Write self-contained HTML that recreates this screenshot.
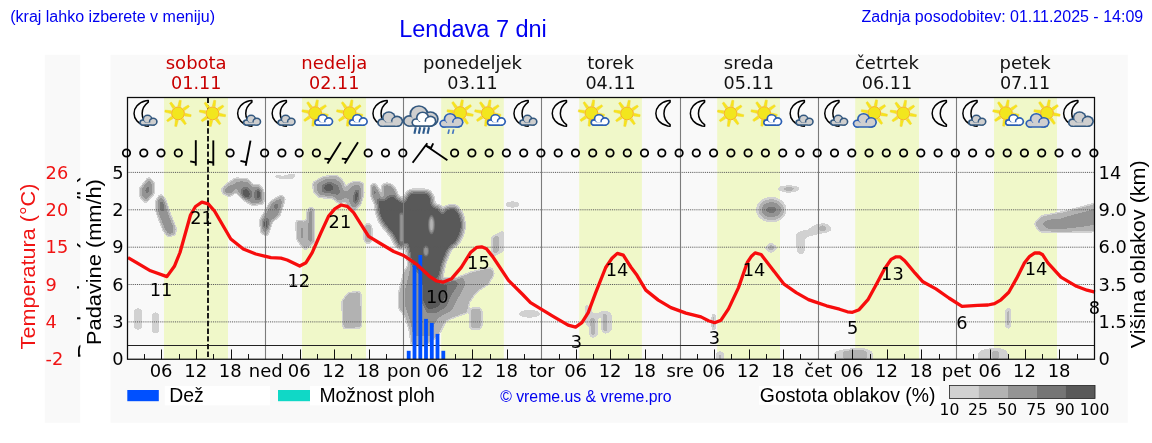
<!DOCTYPE html>
<html lang="sl"><head><meta charset="utf-8"><title>Lendava 7 dni</title>
<style>
html,body{margin:0;padding:0;background:#fff;}
body{width:1152px;height:443px;overflow:hidden;position:relative;}
svg{position:absolute;left:0;top:0;display:block;}
.dj{font-family:"DejaVu Sans","Liberation Sans",sans-serif;}
.ar{font-family:"Liberation Sans",Arial,sans-serif;}
</style></head><body>
<svg width="1152" height="443" viewBox="0 0 1152 443">
<defs>
<filter id="cl" x="0" y="0" width="1152" height="443" filterUnits="userSpaceOnUse" color-interpolation-filters="sRGB">
<feGaussianBlur stdDeviation="1.5"/>
<feColorMatrix type="matrix" values="0 0 0 1 0  0 0 0 1 0  0 0 0 1 0  0 0 0 1 0"/>
<feComponentTransfer>
<feFuncR type="discrete" tableValues="1 1 .82 .82 .82 .7 .7 .7 .7 .7 .58 .58 .58 .58 .58 .46 .46 .46 .35 .35"/>
<feFuncG type="discrete" tableValues="1 1 .82 .82 .82 .7 .7 .7 .7 .7 .58 .58 .58 .58 .58 .46 .46 .46 .35 .35"/>
<feFuncB type="discrete" tableValues="1 1 .82 .82 .82 .7 .7 .7 .7 .7 .58 .58 .58 .58 .58 .46 .46 .46 .35 .35"/>
<feFuncA type="discrete" tableValues="0 0 1 1 1 1 1 1 1 1 1 1 1 1 1 1 1 1 1 1"/>
</feComponentTransfer>
<feGaussianBlur stdDeviation="0.35"/>
</filter>
<filter id="b1" x="340" y="160" width="180" height="200" filterUnits="userSpaceOnUse"><feGaussianBlur stdDeviation="1.4"/></filter>
<filter id="b3" x="-60%" y="-60%" width="220%" height="220%"><feGaussianBlur stdDeviation="3.3"/></filter>
<clipPath id="plot"><rect x="127.5" y="97.5" width="967.0" height="261.75"/></clipPath>
<path id="cloud" d="M22,61 C8,61 1,52 1,43 C1,32 10,25 21,27 C20,12 32,1 47,1 C61,1 71,9 74,21 C88,18 99,28 99,41 C99,53 91,61 79,61 Z"/>
<path id="curl" d="M66,22 C57,27 55,38 63,44" fill="none"/>
<g id="sun"><path d="M2.64,-6.64 L3.28,-12.83 L1.31,-13.17 L-0.21,-7.15Z M6.57,-2.83 L11.39,-6.75 L10.24,-8.39 L4.90,-5.20Z M6.64,2.64 L12.83,3.28 L13.17,1.31 L7.15,-0.21Z M2.83,6.57 L6.75,11.39 L8.39,10.24 L5.20,4.90Z M-2.64,6.64 L-3.28,12.83 L-1.31,13.17 L0.21,7.15Z M-6.57,2.83 L-11.39,6.75 L-10.24,8.39 L-4.90,5.20Z M-6.64,-2.64 L-12.83,-3.28 L-13.17,-1.31 L-7.15,0.21Z M-2.83,-6.57 L-6.75,-11.39 L-8.39,-10.24 L-5.20,-4.90Z" fill="#f6e61a" stroke="#f3d02c" stroke-width="0.5"/><circle r="6.4" fill="#f2e61e" stroke="#f8a920" stroke-width="0.9"/></g>
<path id="moon" d="M8,-12.8 L5.6,-12.6 C-10.2,-9 -10.2,9 5.6,12.6 L8,12.8 L8,11.2 C-0.2,5 -0.2,-5 8,-11.2 Z" fill="#fcfcfc" stroke="#000" stroke-width="1.5" stroke-linejoin="round"/>
</defs>
<rect width="1152" height="443" fill="#fff"/>
<rect x="44.8" y="54.8" width="35.6" height="368" fill="#f9f9f9"/>
<rect x="110.4" y="54.8" width="1017.4" height="368" fill="#f9f9f9"/>
<rect x="164" y="97.5" width="64.0" height="261.75" fill="#f0f8c9"/>
<rect x="302" y="97.5" width="64.0" height="261.75" fill="#f0f8c9"/>
<rect x="441.2" y="97.5" width="62.6" height="261.75" fill="#f0f8c9"/>
<rect x="579.2" y="97.5" width="62.7" height="261.75" fill="#f0f8c9"/>
<rect x="717.2" y="97.5" width="62.8" height="261.75" fill="#f0f8c9"/>
<rect x="855.2" y="97.5" width="63.8" height="261.75" fill="#f0f8c9"/>
<rect x="994" y="97.5" width="63.0" height="261.75" fill="#f0f8c9"/>
<g clip-path="url(#plot)"><g filter="url(#cl)" fill="#000">
<polygon points="148.7,178.5 153.0,183.0 153.0,193.5 145.5,201.5 141.0,196.5 140.5,189.0" opacity="0.55" stroke="#000" stroke-width="1.2" stroke-linejoin="round"/>
<polygon points="148.7,184.0 150.5,187.4 150.0,193.0 145.5,195.5 143.8,192.0 144.5,187.6" opacity="0.5" stroke="#000" stroke-width="1.2" stroke-linejoin="round"/>
<polygon points="160.5,195.5 164.3,199.5 169.8,216.0 175.0,228.5 174.3,233.8 168.0,235.6 164.0,229.5 157.0,211.0 157.0,200.5" opacity="0.55" stroke="#000" stroke-width="1.2" stroke-linejoin="round"/>
<polygon points="160.5,200.0 163.0,203.0 167.0,218.0 171.0,229.0 169.0,231.0 166.0,226.0 160.0,210.0" opacity="0.45" stroke="#000" stroke-width="1.2" stroke-linejoin="round"/>
<ellipse cx="161.5" cy="205.5" rx="2.26" ry="4.36" opacity="0.7"/>
<rect x="133.84" y="308.24" width="8.22" height="21.52" rx="3.96" opacity="0.21"/>
<rect x="151.84" y="312.24" width="7.32" height="21.12" rx="3.56" opacity="0.21"/>
<polygon points="227.0,185.0 235.6,179.2 247.5,180.0 252.5,186.0 258.8,185.5 262.8,191.0 262.8,203.0 252.0,204.3 244.0,199.0 236.0,191.0 229.5,195.5 223.5,193.0 222.8,189.0" opacity="0.5" stroke="#000" stroke-width="1.2" stroke-linejoin="round"/>
<polygon points="240.0,184.0 248.0,184.0 252.0,190.0 258.0,188.0 261.0,192.0 261.0,201.0 253.0,202.0 246.0,198.0 240.0,191.0" opacity="0.45" stroke="#000" stroke-width="1.2" stroke-linejoin="round"/>
<ellipse cx="245.9" cy="193.5" rx="4.66" ry="5.26" opacity="0.92"/>
<ellipse cx="258.5" cy="194.5" rx="2.76" ry="5.56" opacity="0.9"/>
<ellipse cx="229.5" cy="190.3" rx="3.36" ry="2.86" opacity="0.25"/>
<polygon points="281.4,196.0 284.2,198.6 278.8,215.5 271.2,221.6 266.8,235.0 262.0,232.6 260.6,220.8 265.0,213.0 271.0,202.3" opacity="0.5" stroke="#000" stroke-width="1.2" stroke-linejoin="round"/>
<polygon points="279.0,201.0 281.0,204.0 277.0,214.0 270.0,220.0 267.0,230.0 264.0,228.0 263.5,221.0 268.0,213.0 274.0,204.0" opacity="0.4" stroke="#000" stroke-width="1.2" stroke-linejoin="round"/>
<ellipse cx="275.9" cy="206" rx="1.96" ry="3.36" opacity="0.45"/>
<ellipse cx="265.8" cy="224" rx="3.16" ry="5.36" opacity="0.9"/>
<polygon points="274.5,175.2 283.0,176.6 292.3,174.0 296.2,175.6 290.6,178.8 277.0,177.6" opacity="0.22" stroke="#000" stroke-width="1.2" stroke-linejoin="round"/>
<polygon points="296.6,221.3 306.9,222.0 308.6,208.8 313.3,208.8 313.3,242.0 305.3,249.0 297.7,239.8" opacity="0.42" stroke="#000" stroke-width="1.2" stroke-linejoin="round"/>
<rect x="308.44" y="209.64" width="4.92" height="32.72" rx="1.86" opacity="0.3"/>
<rect x="300.14" y="225.64" width="3.72" height="14.72" rx="1.86" opacity="0.2"/>
<polygon points="313.8,183.0 324.8,177.4 336.8,176.6 342.4,181.6 344.8,190.0 348.8,184.8 354.8,182.2 362.0,183.4 362.8,193.6 359.8,204.2 354.4,209.8 349.2,207.0 346.4,200.4 339.8,202.8 332.8,197.2 319.4,196.4 314.6,191.8" opacity="0.5" stroke="#000" stroke-width="1.2" stroke-linejoin="round"/>
<polygon points="320.0,185.5 328.5,180.5 338.5,184.5 341.0,193.0 339.0,199.0 333.0,194.5 321.0,193.5" opacity="0.45" stroke="#000" stroke-width="1.2" stroke-linejoin="round"/>
<polygon points="323.2,185.6 329.2,182.4 338.2,186.2 339.6,193.0 332.4,193.0 323.4,191.6" opacity="0.55" stroke="#000" stroke-width="1.2" stroke-linejoin="round"/>
<ellipse cx="328.4" cy="187.4" rx="4.16" ry="3.16" opacity="0.85"/>
<ellipse cx="356.1" cy="196.6" rx="3.96" ry="9.36" opacity="0.45" transform="rotate(8 356.1 196.6)"/>
<ellipse cx="356.3" cy="196.6" rx="2.56" ry="7.36" opacity="0.85" transform="rotate(8 356.3 196.6)"/>
<polygon points="342.8,301.8 348.4,293.6 359.8,292.4 360.9,326.8 343.9,327.9" opacity="0.42" stroke="#000" stroke-width="1.2" stroke-linejoin="round"/>
<rect x="364.44" y="223.64" width="7.12" height="19.72" rx="3.56" opacity="0.4"/>
<polygon points="371.5,186.0 374.5,184.5 378.0,190.0 381.0,196.0 380.0,202.0 376.0,204.0 372.0,196.0" opacity="0.62" stroke="#000" stroke-width="1.2" stroke-linejoin="round"/>
<polygon points="383.0,186.0 386.5,184.0 391.0,185.5 395.0,190.0 397.0,197.0 390.0,197.0 386.0,201.0 383.0,194.0" opacity="0.62" stroke="#000" stroke-width="1.2" stroke-linejoin="round"/>
<ellipse cx="374.3" cy="192.4" rx="1.66" ry="2.56" opacity="0.8"/>
<polygon points="379.0,201.5 382.3,199.8 385.4,206.0 388.4,198.8 392.5,197.2 397.6,199.8 401.6,203.4 403.7,212.0 406.7,199.3 410.8,193.3 427.0,193.3 430.1,197.3 431.1,207.5 438.2,208.5 442.4,220.0 446.8,209.5 454.4,208.5 459.5,215.6 461.5,225.8 459.5,233.9 455.4,242.0 449.0,246.0 445.0,254.2 441.2,264.3 439.6,272.0 438.4,277.2 430.0,277.0 421.0,272.0 411.5,262.0 411.0,256.0 408.7,244.0 405.0,240.0 400.6,246.0 397.6,242.0 393.5,233.9 386.4,225.8 382.3,219.7 379.3,211.5" opacity="1.0" stroke="#000" stroke-width="4.6" stroke-linejoin="round" filter="url(#b1)"/>
<polygon points="412.0,262.0 440.0,279.0 457.0,279.5 470.0,273.5 484.0,269.8 491.5,269.0 493.0,274.0 487.5,283.5 475.5,291.5 468.3,302.0 466.3,312.0 455.5,315.8 445.3,320.0 441.0,328.5 437.5,335.0 425.0,345.0 412.3,344.3 410.2,329.0 405.2,314.8 399.8,308.7 399.8,292.5 404.8,272.3" opacity="0.42" stroke="#000" stroke-width="1.6" stroke-linejoin="round"/>
<polygon points="412.0,264.0 440.0,280.0 456.0,280.0 462.0,277.0 464.5,284.3 455.9,300.0 451.5,309.3 438.7,316.3 433.6,322.9 430.0,335.0 414.0,335.0 411.0,320.0 406.0,305.0 406.0,290.0 410.0,275.0" opacity="0.4" stroke="#000" stroke-width="1.0" stroke-linejoin="round"/>
<polygon points="421.4,274.2 441.7,283.3 455.9,281.0 457.5,284.3 449.8,296.5 445.8,306.7 435.6,312.5 427.5,312.5 422.4,302.6" opacity="0.66" stroke="#000" stroke-width="1.0" stroke-linejoin="round"/>
<polygon points="421.8,276.0 441.0,284.5 446.0,286.0 443.0,298.0 436.0,306.0 428.0,308.0 423.0,300.0" opacity="0.75" stroke="#000" stroke-width="1.2" stroke-linejoin="round"/>
<polygon points="491.4,238.0 503.0,231.0 503.0,251.4 492.8,255.6" opacity="0.23" stroke="#000" stroke-width="1.2" stroke-linejoin="round"/>
<rect x="494.04" y="235.64" width="2.52" height="17.72" rx="1.26" opacity="0.3"/>
<ellipse cx="512.7" cy="204.5" rx="7.16" ry="2.76" opacity="0.25"/>
<rect x="469.44" y="307.64" width="12.52" height="21.72" rx="3.86" opacity="0.33"/>
<ellipse cx="529.5" cy="313.7" rx="10.86" ry="3.56" opacity="0.25"/>
</g>
<g filter="url(#cl)" fill="#000">
</g>
</g>
<g clip-path="url(#plot)">
<ellipse cx="431.5" cy="224.7" rx="3.5" ry="9.6" fill="#757575"/><ellipse cx="431.5" cy="224.7" rx="2.6" ry="8" fill="#949494"/><ellipse cx="431.5" cy="224.7" rx="1.4" ry="5.6" fill="#b3b3b3"/>
<ellipse cx="426" cy="251" rx="3" ry="5.6" fill="#757575"/><ellipse cx="426" cy="251" rx="1.9" ry="4" fill="#949494"/>
<rect x="399.3" y="212.5" width="4.6" height="32" rx="2.3" fill="#757575"/><rect x="400.3" y="214.5" width="2.6" height="27" rx="1.3" fill="#949494"/>
</g>
<g clip-path="url(#plot)"><g filter="url(#cl)" fill="#000">
<polygon points="585.7,304.6 591.9,307.4 591.9,313.1 598.1,313.6 600.4,311.4 608.9,311.4 611.7,314.2 611.7,331.1 604.9,333.9 601.5,331.1 601.5,317.6 599.3,316.4 598.1,317.6 598.1,334.5 593.1,338.5 589.7,335.6 589.7,327.7 585.2,323.2 585.2,305.2" opacity="0.2" stroke="#000" stroke-width="0.3" stroke-linejoin="round"/>
<rect x="590.64" y="317.94" width="4.12" height="17.72" rx="1.36" opacity="0.17"/>
<rect x="603.84" y="314.04" width="2.22" height="17.22" rx="1.06" opacity="0.32"/>
<rect x="712.64" y="313.64" width="2.32" height="16.72" rx="1.16" opacity="0.45"/>
<rect x="716.14" y="351.64" width="7.72" height="10.72" rx="2.86" opacity="0.25"/>
<ellipse cx="771.3" cy="209.8" rx="11.8" ry="9.2" opacity="0.8" filter="url(#b3)"/>
<ellipse cx="788.8" cy="188.8" rx="11.16" ry="3.16" opacity="0.25"/>
<ellipse cx="788.8" cy="189.2" rx="3.36" ry="1.56" opacity="0.3"/>
<polygon points="771.0,243.6 776.6,247.8 771.0,252.0 765.6,247.8" opacity="0.3" stroke="#000" stroke-width="1.2" stroke-linejoin="round"/>
<polygon points="796.0,233.7 800.9,230.9 807.6,229.9 816.2,224.1 826.8,223.8 832.1,228.0 829.7,231.8 819.1,233.7 807.6,236.6 804.7,239.5 804.7,252.0 800.9,254.9 797.0,252.0" opacity="0.2" stroke="#000" stroke-width="0.4" stroke-linejoin="round"/>
<rect x="819.84" y="225.54" width="5.32" height="5.52" rx="0.96" opacity="0.2"/>
<polygon points="834.1,360.0 834.1,351.9 840.2,350.2 847.7,349.2 852.6,349.0 853.3,348.2 861.7,348.2 866.7,349.6 871.5,350.9 873.0,353.3 873.0,360.0" opacity="0.2" stroke="#000" stroke-width="0.3" stroke-linejoin="round"/>
<polygon points="843.4,360.0 843.4,350.8 853.0,349.6 861.7,349.6 866.9,351.0 866.9,360.0" opacity="0.16" stroke="#000" stroke-width="0.2" stroke-linejoin="round"/>
<polygon points="977.9,360.0 977.9,352.6 981.9,350.2 987.3,348.9 991.4,348.2 1000.2,348.2 1004.3,349.6 1007.7,352.3 1008.3,360.0" opacity="0.2" stroke="#000" stroke-width="0.3" stroke-linejoin="round"/>
<polygon points="992.3,360.0 992.3,351.2 998.7,351.2 998.7,360.0" opacity="0.17" stroke="#000" stroke-width="0.2" stroke-linejoin="round"/>
<rect x="1005.24" y="308.14" width="5.72" height="20.22" rx="2.86" opacity="0.27"/>
<polygon points="1035.5,223.8 1042.0,216.8 1063.0,212.8 1078.6,208.8 1100.0,203.0 1100.0,230.4 1060.4,231.4 1040.2,230.8" opacity="0.4" stroke="#000" stroke-width="1.6" stroke-linejoin="round"/>
<polygon points="1042.2,223.6 1047.4,220.2 1060.4,219.2 1070.8,215.8 1081.2,213.2 1100.0,208.0 1100.0,223.0 1083.9,226.2 1060.4,228.8 1047.4,228.3" opacity="0.32" stroke="#000" stroke-width="1.0" stroke-linejoin="round"/>
<ellipse cx="1094" cy="213.2" rx="1.96" ry="2.76" opacity="0.5"/>
</g></g>
<line x1="127.5" x2="1094.5" y1="321.9" y2="321.9" stroke="#5a5a5a" stroke-width="1" stroke-dasharray="1 0.9"/>
<line x1="127.5" x2="1094.5" y1="284.5" y2="284.5" stroke="#5a5a5a" stroke-width="1" stroke-dasharray="1 0.9"/>
<line x1="127.5" x2="1094.5" y1="247.2" y2="247.2" stroke="#5a5a5a" stroke-width="1" stroke-dasharray="1 0.9"/>
<line x1="127.5" x2="1094.5" y1="209.8" y2="209.8" stroke="#5a5a5a" stroke-width="1" stroke-dasharray="1 0.9"/>
<line x1="127.5" x2="1094.5" y1="172.4" y2="172.4" stroke="#5a5a5a" stroke-width="1" stroke-dasharray="1 0.9"/>
<line x1="265.5" x2="265.5" y1="97.5" y2="359.25" stroke="#7c7c7c" stroke-width="1.1"/>
<line x1="403.5" x2="403.5" y1="97.5" y2="359.25" stroke="#7c7c7c" stroke-width="1.1"/>
<line x1="541.5" x2="541.5" y1="97.5" y2="359.25" stroke="#7c7c7c" stroke-width="1.1"/>
<line x1="680.5" x2="680.5" y1="97.5" y2="359.25" stroke="#7c7c7c" stroke-width="1.1"/>
<line x1="818.5" x2="818.5" y1="97.5" y2="359.25" stroke="#7c7c7c" stroke-width="1.1"/>
<line x1="956.5" x2="956.5" y1="97.5" y2="359.25" stroke="#7c7c7c" stroke-width="1.1"/>
<line x1="127.5" x2="1094.5" y1="345.5" y2="345.5" stroke="#222" stroke-width="1"/>
<line x1="144.5" x2="144.5" y1="354.05" y2="359.25" stroke="#111" stroke-width="1"/>
<line x1="161.5" x2="161.5" y1="349.45" y2="359.25" stroke="#111" stroke-width="1"/>
<line x1="179.5" x2="179.5" y1="354.05" y2="359.25" stroke="#111" stroke-width="1"/>
<line x1="196.5" x2="196.5" y1="349.45" y2="359.25" stroke="#111" stroke-width="1"/>
<line x1="213.5" x2="213.5" y1="354.05" y2="359.25" stroke="#111" stroke-width="1"/>
<line x1="231.5" x2="231.5" y1="349.45" y2="359.25" stroke="#111" stroke-width="1"/>
<line x1="248.5" x2="248.5" y1="354.05" y2="359.25" stroke="#111" stroke-width="1"/>
<line x1="282.5" x2="282.5" y1="354.05" y2="359.25" stroke="#111" stroke-width="1"/>
<line x1="300.5" x2="300.5" y1="349.45" y2="359.25" stroke="#111" stroke-width="1"/>
<line x1="317.5" x2="317.5" y1="354.05" y2="359.25" stroke="#111" stroke-width="1"/>
<line x1="334.5" x2="334.5" y1="349.45" y2="359.25" stroke="#111" stroke-width="1"/>
<line x1="351.5" x2="351.5" y1="354.05" y2="359.25" stroke="#111" stroke-width="1"/>
<line x1="369.5" x2="369.5" y1="349.45" y2="359.25" stroke="#111" stroke-width="1"/>
<line x1="386.5" x2="386.5" y1="354.05" y2="359.25" stroke="#111" stroke-width="1"/>
<line x1="421.5" x2="421.5" y1="354.05" y2="359.25" stroke="#111" stroke-width="1"/>
<line x1="438.5" x2="438.5" y1="349.45" y2="359.25" stroke="#111" stroke-width="1"/>
<line x1="455.5" x2="455.5" y1="354.05" y2="359.25" stroke="#111" stroke-width="1"/>
<line x1="472.5" x2="472.5" y1="349.45" y2="359.25" stroke="#111" stroke-width="1"/>
<line x1="490.5" x2="490.5" y1="354.05" y2="359.25" stroke="#111" stroke-width="1"/>
<line x1="507.5" x2="507.5" y1="349.45" y2="359.25" stroke="#111" stroke-width="1"/>
<line x1="524.5" x2="524.5" y1="354.05" y2="359.25" stroke="#111" stroke-width="1"/>
<line x1="559.5" x2="559.5" y1="354.05" y2="359.25" stroke="#111" stroke-width="1"/>
<line x1="576.5" x2="576.5" y1="349.45" y2="359.25" stroke="#111" stroke-width="1"/>
<line x1="593.5" x2="593.5" y1="354.05" y2="359.25" stroke="#111" stroke-width="1"/>
<line x1="610.5" x2="610.5" y1="349.45" y2="359.25" stroke="#111" stroke-width="1"/>
<line x1="628.5" x2="628.5" y1="354.05" y2="359.25" stroke="#111" stroke-width="1"/>
<line x1="645.5" x2="645.5" y1="349.45" y2="359.25" stroke="#111" stroke-width="1"/>
<line x1="662.5" x2="662.5" y1="354.05" y2="359.25" stroke="#111" stroke-width="1"/>
<line x1="697.5" x2="697.5" y1="354.05" y2="359.25" stroke="#111" stroke-width="1"/>
<line x1="714.5" x2="714.5" y1="349.45" y2="359.25" stroke="#111" stroke-width="1"/>
<line x1="731.5" x2="731.5" y1="354.05" y2="359.25" stroke="#111" stroke-width="1"/>
<line x1="749.5" x2="749.5" y1="349.45" y2="359.25" stroke="#111" stroke-width="1"/>
<line x1="766.5" x2="766.5" y1="354.05" y2="359.25" stroke="#111" stroke-width="1"/>
<line x1="783.5" x2="783.5" y1="349.45" y2="359.25" stroke="#111" stroke-width="1"/>
<line x1="800.5" x2="800.5" y1="354.05" y2="359.25" stroke="#111" stroke-width="1"/>
<line x1="835.5" x2="835.5" y1="354.05" y2="359.25" stroke="#111" stroke-width="1"/>
<line x1="852.5" x2="852.5" y1="349.45" y2="359.25" stroke="#111" stroke-width="1"/>
<line x1="870.5" x2="870.5" y1="354.05" y2="359.25" stroke="#111" stroke-width="1"/>
<line x1="887.5" x2="887.5" y1="349.45" y2="359.25" stroke="#111" stroke-width="1"/>
<line x1="904.5" x2="904.5" y1="354.05" y2="359.25" stroke="#111" stroke-width="1"/>
<line x1="921.5" x2="921.5" y1="349.45" y2="359.25" stroke="#111" stroke-width="1"/>
<line x1="939.5" x2="939.5" y1="354.05" y2="359.25" stroke="#111" stroke-width="1"/>
<line x1="973.5" x2="973.5" y1="354.05" y2="359.25" stroke="#111" stroke-width="1"/>
<line x1="990.5" x2="990.5" y1="349.45" y2="359.25" stroke="#111" stroke-width="1"/>
<line x1="1008.5" x2="1008.5" y1="354.05" y2="359.25" stroke="#111" stroke-width="1"/>
<line x1="1025.5" x2="1025.5" y1="349.45" y2="359.25" stroke="#111" stroke-width="1"/>
<line x1="1042.5" x2="1042.5" y1="354.05" y2="359.25" stroke="#111" stroke-width="1"/>
<line x1="1059.5" x2="1059.5" y1="349.45" y2="359.25" stroke="#111" stroke-width="1"/>
<line x1="1077.5" x2="1077.5" y1="354.05" y2="359.25" stroke="#111" stroke-width="1"/>
<rect x="406.8" y="350.8" width="3.8" height="8.4" fill="#0050ff"/>
<rect x="412.6" y="265.3" width="3.8" height="93.9" fill="#0050ff"/>
<rect x="418.4" y="255" width="3.8" height="104.2" fill="#0050ff"/>
<rect x="424.1" y="318.9" width="3.8" height="40.4" fill="#0050ff"/>
<rect x="429.9" y="322.9" width="3.8" height="36.4" fill="#0050ff"/>
<rect x="435.6" y="333.9" width="3.8" height="25.4" fill="#0050ff"/>
<rect x="441.4" y="350.8" width="3.8" height="8.4" fill="#0050ff"/>
<line x1="208" x2="208" y1="97.5" y2="359.25" stroke="#111" stroke-width="1.9" stroke-dasharray="5.4 2.3"/>
<polyline fill="none" stroke="#f70d0d" stroke-width="3.3" stroke-linejoin="round" stroke-linecap="butt" points="128.0,257.6 150.5,270.8 166.9,276.6 174.4,266.3 180.0,252.5 190.5,215 195.5,206.5 201.9,202.2 208.2,203.8 214.5,211 230.8,239 243.3,249 255.8,254 270.9,257.7 280.9,258.2 287.2,260 299.7,266 306.0,262.7 312.2,252.7 321.0,232.7 328.5,216.4 334.8,208.9 341.1,205 347.3,206.4 353.6,212.6 368.6,236.4 381.2,244 393.7,251.5 404.2,255.8 416.9,264.5 429.5,276.3 436.6,281 442.9,282.2 451.6,278.7 461.1,267.7 470.5,252.6 476.9,247.3 481.6,246.8 486.4,248.7 492.7,256.6 508.5,280.3 522.7,294.5 530.5,302.6 553.1,316.4 568.1,325.2 575.6,327.2 581.9,322.7 588.2,312.6 595.7,292.6 605.7,267.5 612.0,258.2 617.3,253.4 623.3,255.2 630.8,267 637.0,275.3 645.8,290.1 658.3,300.1 670.9,307.6 685.9,313.1 701.0,316.9 708.5,320.7 714.7,322.7 721.0,320.2 728.5,308.9 738.5,287.6 747.3,262.5 751.5,256.2 755.1,252.9 761.1,254.5 771.1,267.5 783.7,283.8 796.2,292.6 808.5,299.6 813.5,301.4 826.5,305.8 839.5,309.2 847.4,311.8 852.5,312.3 859.1,309.7 868.2,299.3 876.0,285 884.3,269.2 891.1,259.4 896.1,256.8 899.9,256.8 904.7,260.7 915.1,273.2 922.9,281.8 935.9,288.9 948.9,298 962.0,306.3 977.5,305.3 988.0,305 994.5,303.7 1001.0,299.8 1008.8,292.2 1016.6,278.4 1024.5,262.8 1029.7,256.3 1034.9,252.8 1039.5,253 1042.7,254.8 1047.9,262.8 1060.9,277.1 1076.5,286.3 1087.0,290.2 1095.0,292.2"/>
<rect x="127.5" y="97.5" width="967.0" height="261.75" fill="none" stroke="#0c0c0c" stroke-width="1.25"/>
<use href="#moon" x="140.3" y="113.4"/>
<g transform="translate(139.9,114.8) scale(0.170,0.156)"><g fill="#33587f"><circle cx="17" cy="50" r="20.7"/><circle cx="45" cy="28" r="29.7"/><circle cx="78" cy="44" r="26.7"/><rect x="5.3" y="39.3" width="85.4" height="31.4" rx="10"/></g><g fill="#cfcfcf"><circle cx="17" cy="50" r="11.3"/><circle cx="45" cy="28" r="20.3"/><circle cx="78" cy="44" r="17.3"/><rect x="14.7" y="48.7" width="66.6" height="12.6" rx="8"/></g><path d="M67.5,24.7 A22,22 0 0 0 56,43" fill="none" stroke="#33587f" stroke-width="8.0" stroke-linecap="round"/></g>
<use href="#sun" x="178.0" y="113.4"/>
<use href="#sun" x="212.5" y="113.4"/>
<use href="#moon" x="243.9" y="113.4"/>
<g transform="translate(243.5,114.8) scale(0.170,0.156)"><g fill="#33587f"><circle cx="17" cy="50" r="20.7"/><circle cx="45" cy="28" r="29.7"/><circle cx="78" cy="44" r="26.7"/><rect x="5.3" y="39.3" width="85.4" height="31.4" rx="10"/></g><g fill="#cfcfcf"><circle cx="17" cy="50" r="11.3"/><circle cx="45" cy="28" r="20.3"/><circle cx="78" cy="44" r="17.3"/><rect x="14.7" y="48.7" width="66.6" height="12.6" rx="8"/></g><path d="M67.5,24.7 A22,22 0 0 0 56,43" fill="none" stroke="#33587f" stroke-width="8.0" stroke-linecap="round"/></g>
<use href="#moon" x="278.4" y="113.4"/>
<g transform="translate(278.0,114.8) scale(0.170,0.156)"><g fill="#33587f"><circle cx="17" cy="50" r="20.7"/><circle cx="45" cy="28" r="29.7"/><circle cx="78" cy="44" r="26.7"/><rect x="5.3" y="39.3" width="85.4" height="31.4" rx="10"/></g><g fill="#cfcfcf"><circle cx="17" cy="50" r="11.3"/><circle cx="45" cy="28" r="20.3"/><circle cx="78" cy="44" r="17.3"/><rect x="14.7" y="48.7" width="66.6" height="12.6" rx="8"/></g><path d="M67.5,24.7 A22,22 0 0 0 56,43" fill="none" stroke="#33587f" stroke-width="8.0" stroke-linecap="round"/></g>
<use href="#sun" x="315.1" y="113.10000000000001"/>
<g transform="translate(314.7,114.3) scale(0.178,0.164)"><g fill="#2b5fb4"><circle cx="17" cy="50" r="20.8"/><circle cx="45" cy="28" r="29.8"/><circle cx="78" cy="44" r="26.8"/><rect x="5.2" y="39.2" width="85.6" height="31.6" rx="10"/></g><g fill="#fff"><circle cx="17" cy="50" r="11.2"/><circle cx="45" cy="28" r="20.2"/><circle cx="78" cy="44" r="17.2"/><rect x="14.8" y="48.8" width="66.4" height="12.4" rx="8"/></g><path d="M67.5,24.7 A22,22 0 0 0 56,43" fill="none" stroke="#2b5fb4" stroke-width="8.1" stroke-linecap="round"/></g>
<use href="#sun" x="349.7" y="113.10000000000001"/>
<g transform="translate(349.3,114.3) scale(0.178,0.164)"><g fill="#2b5fb4"><circle cx="17" cy="50" r="20.8"/><circle cx="45" cy="28" r="29.8"/><circle cx="78" cy="44" r="26.8"/><rect x="5.2" y="39.2" width="85.6" height="31.6" rx="10"/></g><g fill="#fff"><circle cx="17" cy="50" r="11.2"/><circle cx="45" cy="28" r="20.2"/><circle cx="78" cy="44" r="17.2"/><rect x="14.8" y="48.8" width="66.4" height="12.4" rx="8"/></g><path d="M67.5,24.7 A22,22 0 0 0 56,43" fill="none" stroke="#2b5fb4" stroke-width="8.1" stroke-linecap="round"/></g>
<use href="#moon" x="379.2" y="113.4"/>
<g transform="translate(377.8,111.4) scale(0.246,0.226)"><g fill="#33587f"><circle cx="17" cy="50" r="19.5"/><circle cx="45" cy="28" r="28.5"/><circle cx="78" cy="44" r="25.5"/><rect x="6.5" y="40.5" width="82.9" height="28.9" rx="10"/></g><g fill="#cfcfcf"><circle cx="17" cy="50" r="12.5"/><circle cx="45" cy="28" r="21.5"/><circle cx="78" cy="44" r="18.5"/><rect x="13.5" y="47.5" width="69.1" height="15.1" rx="8"/></g><path d="M67.5,24.7 A22,22 0 0 0 56,43" fill="none" stroke="#33587f" stroke-width="5.9" stroke-linecap="round"/></g>
<g transform="translate(403.4,105.1) scale(0.345,0.317)"><g fill="#33587f"><circle cx="17" cy="50" r="18.5"/><circle cx="45" cy="28" r="27.5"/><circle cx="78" cy="44" r="24.5"/><rect x="7.5" y="41.5" width="80.9" height="26.9" rx="10"/></g><g fill="#cfcfcf"><circle cx="17" cy="50" r="13.5"/><circle cx="45" cy="28" r="22.5"/><circle cx="78" cy="44" r="19.5"/><rect x="12.5" y="46.5" width="71.1" height="17.1" rx="8"/></g></g>
<g transform="translate(412.0,111.6) scale(0.236,0.217)"><g fill="#33587f"><circle cx="17" cy="50" r="19.6"/><circle cx="45" cy="28" r="28.6"/><circle cx="78" cy="44" r="25.6"/><rect x="6.4" y="40.4" width="83.2" height="29.2" rx="10"/></g><g fill="#fff"><circle cx="17" cy="50" r="12.4"/><circle cx="45" cy="28" r="21.4"/><circle cx="78" cy="44" r="18.4"/><rect x="13.6" y="47.6" width="68.8" height="14.8" rx="8"/></g><path d="M67.5,24.7 A22,22 0 0 0 56,43" fill="none" stroke="#33587f" stroke-width="6.1" stroke-linecap="round"/></g>
<line x1="415.8" y1="127.2" x2="414.4" y2="133.8" stroke="#2c5a8c" stroke-width="2.1"/>
<line x1="420.2" y1="127.2" x2="418.8" y2="133.8" stroke="#2c5a8c" stroke-width="2.1"/>
<line x1="424.6" y1="127.2" x2="423.2" y2="133.8" stroke="#2c5a8c" stroke-width="2.1"/>
<line x1="429.0" y1="127.2" x2="427.6" y2="133.8" stroke="#2c5a8c" stroke-width="2.1"/>
<use href="#sun" x="460.1" y="113.0"/>
<g transform="translate(439.9,113.1) scale(0.228,0.210)"><g fill="#2b5fb4"><circle cx="17" cy="50" r="19.7"/><circle cx="45" cy="28" r="28.7"/><circle cx="78" cy="44" r="25.7"/><rect x="6.3" y="40.3" width="83.5" height="29.5" rx="10"/></g><g fill="#cfcfcf"><circle cx="17" cy="50" r="12.3"/><circle cx="45" cy="28" r="21.3"/><circle cx="78" cy="44" r="18.3"/><rect x="13.7" y="47.7" width="68.5" height="14.5" rx="8"/></g><path d="M67.5,24.7 A22,22 0 0 0 56,43" fill="none" stroke="#2b5fb4" stroke-width="6.3" stroke-linecap="round"/></g>
<line x1="449.2" y1="129.4" x2="448.1" y2="133.9" stroke="#4676c0" stroke-width="1.7"/>
<line x1="453.7" y1="129.4" x2="452.6" y2="133.9" stroke="#4676c0" stroke-width="1.7"/>
<use href="#sun" x="487.8" y="113.10000000000001"/>
<g transform="translate(487.4,114.3) scale(0.178,0.164)"><g fill="#2b5fb4"><circle cx="17" cy="50" r="20.8"/><circle cx="45" cy="28" r="29.8"/><circle cx="78" cy="44" r="26.8"/><rect x="5.2" y="39.2" width="85.6" height="31.6" rx="10"/></g><g fill="#fff"><circle cx="17" cy="50" r="11.2"/><circle cx="45" cy="28" r="20.2"/><circle cx="78" cy="44" r="17.2"/><rect x="14.8" y="48.8" width="66.4" height="12.4" rx="8"/></g><path d="M67.5,24.7 A22,22 0 0 0 56,43" fill="none" stroke="#2b5fb4" stroke-width="8.1" stroke-linecap="round"/></g>
<use href="#moon" x="520.2" y="113.4"/>
<g transform="translate(519.8,114.8) scale(0.170,0.156)"><g fill="#33587f"><circle cx="17" cy="50" r="20.7"/><circle cx="45" cy="28" r="29.7"/><circle cx="78" cy="44" r="26.7"/><rect x="5.3" y="39.3" width="85.4" height="31.4" rx="10"/></g><g fill="#cfcfcf"><circle cx="17" cy="50" r="11.3"/><circle cx="45" cy="28" r="20.3"/><circle cx="78" cy="44" r="17.3"/><rect x="14.7" y="48.7" width="66.6" height="12.6" rx="8"/></g><path d="M67.5,24.7 A22,22 0 0 0 56,43" fill="none" stroke="#33587f" stroke-width="8.0" stroke-linecap="round"/></g>
<use href="#moon" x="558.5" y="113.4"/>
<use href="#sun" x="591.4" y="113.10000000000001"/>
<g transform="translate(591.0,114.3) scale(0.178,0.164)"><g fill="#2b5fb4"><circle cx="17" cy="50" r="20.8"/><circle cx="45" cy="28" r="29.8"/><circle cx="78" cy="44" r="26.8"/><rect x="5.2" y="39.2" width="85.6" height="31.6" rx="10"/></g><g fill="#fff"><circle cx="17" cy="50" r="11.2"/><circle cx="45" cy="28" r="20.2"/><circle cx="78" cy="44" r="17.2"/><rect x="14.8" y="48.8" width="66.4" height="12.4" rx="8"/></g><path d="M67.5,24.7 A22,22 0 0 0 56,43" fill="none" stroke="#2b5fb4" stroke-width="8.1" stroke-linecap="round"/></g>
<use href="#sun" x="627.0" y="113.4"/>
<use href="#moon" x="662.1" y="113.4"/>
<use href="#moon" x="696.6" y="113.4"/>
<use href="#sun" x="730.6" y="113.4"/>
<use href="#sun" x="764.1" y="113.10000000000001"/>
<g transform="translate(763.7,114.3) scale(0.178,0.164)"><g fill="#2b5fb4"><circle cx="17" cy="50" r="20.8"/><circle cx="45" cy="28" r="29.8"/><circle cx="78" cy="44" r="26.8"/><rect x="5.2" y="39.2" width="85.6" height="31.6" rx="10"/></g><g fill="#fff"><circle cx="17" cy="50" r="11.2"/><circle cx="45" cy="28" r="20.2"/><circle cx="78" cy="44" r="17.2"/><rect x="14.8" y="48.8" width="66.4" height="12.4" rx="8"/></g><path d="M67.5,24.7 A22,22 0 0 0 56,43" fill="none" stroke="#2b5fb4" stroke-width="8.1" stroke-linecap="round"/></g>
<use href="#moon" x="796.4" y="113.4"/>
<g transform="translate(796.0,114.8) scale(0.170,0.156)"><g fill="#33587f"><circle cx="17" cy="50" r="20.7"/><circle cx="45" cy="28" r="29.7"/><circle cx="78" cy="44" r="26.7"/><rect x="5.3" y="39.3" width="85.4" height="31.4" rx="10"/></g><g fill="#cfcfcf"><circle cx="17" cy="50" r="11.3"/><circle cx="45" cy="28" r="20.3"/><circle cx="78" cy="44" r="17.3"/><rect x="14.7" y="48.7" width="66.6" height="12.6" rx="8"/></g><path d="M67.5,24.7 A22,22 0 0 0 56,43" fill="none" stroke="#33587f" stroke-width="8.0" stroke-linecap="round"/></g>
<use href="#moon" x="831.0" y="113.4"/>
<g transform="translate(830.6,114.8) scale(0.170,0.156)"><g fill="#33587f"><circle cx="17" cy="50" r="20.7"/><circle cx="45" cy="28" r="29.7"/><circle cx="78" cy="44" r="26.7"/><rect x="5.3" y="39.3" width="85.4" height="31.4" rx="10"/></g><g fill="#cfcfcf"><circle cx="17" cy="50" r="11.3"/><circle cx="45" cy="28" r="20.3"/><circle cx="78" cy="44" r="17.3"/><rect x="14.7" y="48.7" width="66.6" height="12.6" rx="8"/></g><path d="M67.5,24.7 A22,22 0 0 0 56,43" fill="none" stroke="#33587f" stroke-width="8.0" stroke-linecap="round"/></g>
<use href="#sun" x="874.3" y="113.0"/>
<g transform="translate(853.3,113.1) scale(0.228,0.210)"><g fill="#2b5fb4"><circle cx="17" cy="50" r="19.7"/><circle cx="45" cy="28" r="28.7"/><circle cx="78" cy="44" r="25.7"/><rect x="6.3" y="40.3" width="83.5" height="29.5" rx="10"/></g><g fill="#cfcfcf"><circle cx="17" cy="50" r="12.3"/><circle cx="45" cy="28" r="21.3"/><circle cx="78" cy="44" r="18.3"/><rect x="13.7" y="47.7" width="68.5" height="14.5" rx="8"/></g><path d="M67.5,24.7 A22,22 0 0 0 56,43" fill="none" stroke="#2b5fb4" stroke-width="6.3" stroke-linecap="round"/></g>
<use href="#sun" x="903.3" y="113.4"/>
<use href="#moon" x="938.4" y="113.4"/>
<use href="#moon" x="969.1" y="113.4"/>
<g transform="translate(968.7,114.8) scale(0.170,0.156)"><g fill="#33587f"><circle cx="17" cy="50" r="20.7"/><circle cx="45" cy="28" r="29.7"/><circle cx="78" cy="44" r="26.7"/><rect x="5.3" y="39.3" width="85.4" height="31.4" rx="10"/></g><g fill="#cfcfcf"><circle cx="17" cy="50" r="11.3"/><circle cx="45" cy="28" r="20.3"/><circle cx="78" cy="44" r="17.3"/><rect x="14.7" y="48.7" width="66.6" height="12.6" rx="8"/></g><path d="M67.5,24.7 A22,22 0 0 0 56,43" fill="none" stroke="#33587f" stroke-width="8.0" stroke-linecap="round"/></g>
<use href="#sun" x="1005.9" y="113.10000000000001"/>
<g transform="translate(1005.5,114.3) scale(0.178,0.164)"><g fill="#2b5fb4"><circle cx="17" cy="50" r="20.8"/><circle cx="45" cy="28" r="29.8"/><circle cx="78" cy="44" r="26.8"/><rect x="5.2" y="39.2" width="85.6" height="31.6" rx="10"/></g><g fill="#fff"><circle cx="17" cy="50" r="11.2"/><circle cx="45" cy="28" r="20.2"/><circle cx="78" cy="44" r="17.2"/><rect x="14.8" y="48.8" width="66.4" height="12.4" rx="8"/></g><path d="M67.5,24.7 A22,22 0 0 0 56,43" fill="none" stroke="#2b5fb4" stroke-width="8.1" stroke-linecap="round"/></g>
<use href="#sun" x="1047.0" y="113.0"/>
<g transform="translate(1026.0,113.1) scale(0.228,0.210)"><g fill="#2b5fb4"><circle cx="17" cy="50" r="19.7"/><circle cx="45" cy="28" r="28.7"/><circle cx="78" cy="44" r="25.7"/><rect x="6.3" y="40.3" width="83.5" height="29.5" rx="10"/></g><g fill="#cfcfcf"><circle cx="17" cy="50" r="12.3"/><circle cx="45" cy="28" r="21.3"/><circle cx="78" cy="44" r="18.3"/><rect x="13.7" y="47.7" width="68.5" height="14.5" rx="8"/></g><path d="M67.5,24.7 A22,22 0 0 0 56,43" fill="none" stroke="#2b5fb4" stroke-width="6.3" stroke-linecap="round"/></g>
<use href="#moon" x="1069.9" y="113.4"/>
<g transform="translate(1068.5,111.4) scale(0.246,0.226)"><g fill="#33587f"><circle cx="17" cy="50" r="19.5"/><circle cx="45" cy="28" r="28.5"/><circle cx="78" cy="44" r="25.5"/><rect x="6.5" y="40.5" width="82.9" height="28.9" rx="10"/></g><g fill="#cfcfcf"><circle cx="17" cy="50" r="12.5"/><circle cx="45" cy="28" r="21.5"/><circle cx="78" cy="44" r="18.5"/><rect x="13.5" y="47.5" width="69.1" height="15.1" rx="8"/></g><path d="M67.5,24.7 A22,22 0 0 0 56,43" fill="none" stroke="#33587f" stroke-width="5.9" stroke-linecap="round"/></g>
<circle cx="126.5" cy="153.0" r="3.7" fill="none" stroke="#000" stroke-width="1.8"/>
<circle cx="143.8" cy="153.0" r="3.7" fill="none" stroke="#000" stroke-width="1.8"/>
<circle cx="161.0" cy="153.0" r="3.7" fill="none" stroke="#000" stroke-width="1.8"/>
<circle cx="178.3" cy="153.0" r="3.7" fill="none" stroke="#000" stroke-width="1.8"/>
<line x1="195.8" y1="140.2" x2="195.8" y2="165.7" stroke="#000" stroke-width="1.9"/>
<line x1="195.8" y1="162.5" x2="190.2" y2="161.4" stroke="#000" stroke-width="1.9"/>
<line x1="213.3" y1="140.4" x2="213.3" y2="165.7" stroke="#000" stroke-width="1.9"/>
<line x1="213.3" y1="162.5" x2="207.6" y2="161.7" stroke="#000" stroke-width="1.9"/>
<circle cx="230.1" cy="153.0" r="3.7" fill="none" stroke="#000" stroke-width="1.8"/>
<line x1="250.5" y1="140.6" x2="245.7" y2="165.7" stroke="#000" stroke-width="1.9"/>
<line x1="246.4" y1="162.2" x2="240.4" y2="160.9" stroke="#000" stroke-width="1.9"/>
<circle cx="264.6" cy="153.0" r="3.7" fill="none" stroke="#000" stroke-width="1.8"/>
<circle cx="281.9" cy="153.0" r="3.7" fill="none" stroke="#000" stroke-width="1.8"/>
<circle cx="299.2" cy="153.0" r="3.7" fill="none" stroke="#000" stroke-width="1.8"/>
<circle cx="316.4" cy="153.0" r="3.7" fill="none" stroke="#000" stroke-width="1.8"/>
<line x1="340.8" y1="142.2" x2="327.5" y2="163.6" stroke="#000" stroke-width="1.9"/>
<line x1="330.2" y1="159.3" x2="324.4" y2="158.6" stroke="#000" stroke-width="1.9"/>
<line x1="358.0" y1="142.2" x2="344.7" y2="163.6" stroke="#000" stroke-width="1.9"/>
<line x1="347.4" y1="159.3" x2="341.8" y2="158.6" stroke="#000" stroke-width="1.9"/>
<circle cx="368.2" cy="153.0" r="3.7" fill="none" stroke="#000" stroke-width="1.8"/>
<circle cx="385.5" cy="153.0" r="3.7" fill="none" stroke="#000" stroke-width="1.8"/>
<circle cx="402.8" cy="153.0" r="3.7" fill="none" stroke="#000" stroke-width="1.8"/>
<line x1="412.6" y1="162.7" x2="427.3" y2="143.3" stroke="#000" stroke-width="1.9"/>
<line x1="425.6" y1="145.6" x2="430.6" y2="147.6" stroke="#000" stroke-width="1.9"/>
<line x1="447.4" y1="160.3" x2="426.1" y2="145.7" stroke="#000" stroke-width="1.9"/>
<line x1="430.6" y1="148.8" x2="433.2" y2="143.4" stroke="#000" stroke-width="1.9"/>
<circle cx="454.6" cy="153.0" r="3.7" fill="none" stroke="#000" stroke-width="1.8"/>
<circle cx="471.9" cy="153.0" r="3.7" fill="none" stroke="#000" stroke-width="1.8"/>
<circle cx="489.1" cy="153.0" r="3.7" fill="none" stroke="#000" stroke-width="1.8"/>
<circle cx="506.4" cy="153.0" r="3.7" fill="none" stroke="#000" stroke-width="1.8"/>
<circle cx="523.7" cy="153.0" r="3.7" fill="none" stroke="#000" stroke-width="1.8"/>
<circle cx="540.9" cy="153.0" r="3.7" fill="none" stroke="#000" stroke-width="1.8"/>
<circle cx="558.2" cy="153.0" r="3.7" fill="none" stroke="#000" stroke-width="1.8"/>
<circle cx="575.5" cy="153.0" r="3.7" fill="none" stroke="#000" stroke-width="1.8"/>
<circle cx="592.7" cy="153.0" r="3.7" fill="none" stroke="#000" stroke-width="1.8"/>
<circle cx="610.0" cy="153.0" r="3.7" fill="none" stroke="#000" stroke-width="1.8"/>
<circle cx="627.3" cy="153.0" r="3.7" fill="none" stroke="#000" stroke-width="1.8"/>
<circle cx="644.5" cy="153.0" r="3.7" fill="none" stroke="#000" stroke-width="1.8"/>
<circle cx="661.8" cy="153.0" r="3.7" fill="none" stroke="#000" stroke-width="1.8"/>
<circle cx="679.1" cy="153.0" r="3.7" fill="none" stroke="#000" stroke-width="1.8"/>
<circle cx="696.3" cy="153.0" r="3.7" fill="none" stroke="#000" stroke-width="1.8"/>
<circle cx="713.6" cy="153.0" r="3.7" fill="none" stroke="#000" stroke-width="1.8"/>
<circle cx="730.9" cy="153.0" r="3.7" fill="none" stroke="#000" stroke-width="1.8"/>
<circle cx="748.1" cy="153.0" r="3.7" fill="none" stroke="#000" stroke-width="1.8"/>
<circle cx="765.4" cy="153.0" r="3.7" fill="none" stroke="#000" stroke-width="1.8"/>
<circle cx="782.7" cy="153.0" r="3.7" fill="none" stroke="#000" stroke-width="1.8"/>
<circle cx="799.9" cy="153.0" r="3.7" fill="none" stroke="#000" stroke-width="1.8"/>
<circle cx="817.2" cy="153.0" r="3.7" fill="none" stroke="#000" stroke-width="1.8"/>
<circle cx="834.5" cy="153.0" r="3.7" fill="none" stroke="#000" stroke-width="1.8"/>
<circle cx="851.8" cy="153.0" r="3.7" fill="none" stroke="#000" stroke-width="1.8"/>
<circle cx="869.0" cy="153.0" r="3.7" fill="none" stroke="#000" stroke-width="1.8"/>
<circle cx="886.3" cy="153.0" r="3.7" fill="none" stroke="#000" stroke-width="1.8"/>
<circle cx="903.6" cy="153.0" r="3.7" fill="none" stroke="#000" stroke-width="1.8"/>
<circle cx="920.8" cy="153.0" r="3.7" fill="none" stroke="#000" stroke-width="1.8"/>
<circle cx="938.1" cy="153.0" r="3.7" fill="none" stroke="#000" stroke-width="1.8"/>
<circle cx="955.4" cy="153.0" r="3.7" fill="none" stroke="#000" stroke-width="1.8"/>
<circle cx="972.6" cy="153.0" r="3.7" fill="none" stroke="#000" stroke-width="1.8"/>
<circle cx="989.9" cy="153.0" r="3.7" fill="none" stroke="#000" stroke-width="1.8"/>
<circle cx="1007.2" cy="153.0" r="3.7" fill="none" stroke="#000" stroke-width="1.8"/>
<circle cx="1024.4" cy="153.0" r="3.7" fill="none" stroke="#000" stroke-width="1.8"/>
<circle cx="1041.7" cy="153.0" r="3.7" fill="none" stroke="#000" stroke-width="1.8"/>
<circle cx="1059.0" cy="153.0" r="3.7" fill="none" stroke="#000" stroke-width="1.8"/>
<circle cx="1076.2" cy="153.0" r="3.7" fill="none" stroke="#000" stroke-width="1.8"/>
<circle cx="1093.9" cy="153.0" r="3.7" fill="none" stroke="#000" stroke-width="1.8"/>
<text class="dj" x="161" y="295.6" font-size="17.8" fill="#000" text-anchor="middle">11</text>
<text class="dj" x="201.5" y="224.2" font-size="17.8" fill="#000" text-anchor="middle">21</text>
<text class="dj" x="298.8" y="286.8" font-size="17.8" fill="#000" text-anchor="middle">12</text>
<text class="dj" x="339.9" y="227.6" font-size="17.8" fill="#000" text-anchor="middle">21</text>
<text class="dj" x="478.4" y="269.0" font-size="17.8" fill="#000" text-anchor="middle">15</text>
<text class="dj" x="437.3" y="303.20000000000005" font-size="17.8" fill="#000" text-anchor="middle">10</text>
<text class="dj" x="576.5" y="348.1" font-size="17.8" fill="#000" text-anchor="middle">3</text>
<text class="dj" x="617" y="276.1" font-size="17.8" fill="#000" text-anchor="middle">14</text>
<text class="dj" x="714.5" y="344.40000000000003" font-size="17.8" fill="#000" text-anchor="middle">3</text>
<text class="dj" x="754" y="275.6" font-size="17.8" fill="#000" text-anchor="middle">14</text>
<text class="dj" x="852.7" y="334.20000000000005" font-size="17.8" fill="#000" text-anchor="middle">5</text>
<text class="dj" x="892.4" y="279.6" font-size="17.8" fill="#000" text-anchor="middle">13</text>
<text class="dj" x="961.8" y="328.6" font-size="17.8" fill="#000" text-anchor="middle">6</text>
<text class="dj" x="1036.0" y="275.20000000000005" font-size="17.8" fill="#000" text-anchor="middle">14</text>
<text class="dj" x="1094.5" y="314.20000000000005" font-size="17.8" fill="#000" text-anchor="middle">8</text>
<text class="dj" x="196.2" y="69" font-size="18" fill="#c80000" text-anchor="middle">sobota</text>
<text class="dj" x="196.2" y="89.4" font-size="17.6" fill="#c80000" text-anchor="middle">01.11</text>
<text class="dj" x="334.3" y="69" font-size="18" fill="#c80000" text-anchor="middle">nedelja</text>
<text class="dj" x="334.3" y="89.4" font-size="17.6" fill="#c80000" text-anchor="middle">02.11</text>
<text class="dj" x="472.5" y="69" font-size="18" fill="#111" text-anchor="middle">ponedeljek</text>
<text class="dj" x="472.5" y="89.4" font-size="17.6" fill="#111" text-anchor="middle">03.11</text>
<text class="dj" x="610.6" y="69" font-size="18" fill="#111" text-anchor="middle">torek</text>
<text class="dj" x="610.6" y="89.4" font-size="17.6" fill="#111" text-anchor="middle">04.11</text>
<text class="dj" x="748.8" y="69" font-size="18" fill="#111" text-anchor="middle">sreda</text>
<text class="dj" x="748.8" y="89.4" font-size="17.6" fill="#111" text-anchor="middle">05.11</text>
<text class="dj" x="886.9" y="69" font-size="18" fill="#111" text-anchor="middle">četrtek</text>
<text class="dj" x="886.9" y="89.4" font-size="17.6" fill="#111" text-anchor="middle">06.11</text>
<text class="dj" x="1025.1" y="69" font-size="18" fill="#111" text-anchor="middle">petek</text>
<text class="dj" x="1025.1" y="89.4" font-size="17.6" fill="#111" text-anchor="middle">07.11</text>
<text class="dj" x="161.1" y="377" font-size="18" fill="#000" text-anchor="middle">06</text>
<text class="dj" x="195.7" y="377" font-size="18" fill="#000" text-anchor="middle">12</text>
<text class="dj" x="230.2" y="377" font-size="18" fill="#000" text-anchor="middle">18</text>
<text class="dj" x="265.7" y="377" font-size="18" fill="#000" text-anchor="middle">ned</text>
<text class="dj" x="299.3" y="377" font-size="18" fill="#000" text-anchor="middle">06</text>
<text class="dj" x="333.8" y="377" font-size="18" fill="#000" text-anchor="middle">12</text>
<text class="dj" x="368.3" y="377" font-size="18" fill="#000" text-anchor="middle">18</text>
<text class="dj" x="403.9" y="377" font-size="18" fill="#000" text-anchor="middle">pon</text>
<text class="dj" x="437.4" y="377" font-size="18" fill="#000" text-anchor="middle">06</text>
<text class="dj" x="472.0" y="377" font-size="18" fill="#000" text-anchor="middle">12</text>
<text class="dj" x="506.5" y="377" font-size="18" fill="#000" text-anchor="middle">18</text>
<text class="dj" x="542.0" y="377" font-size="18" fill="#000" text-anchor="middle">tor</text>
<text class="dj" x="575.6" y="377" font-size="18" fill="#000" text-anchor="middle">06</text>
<text class="dj" x="610.1" y="377" font-size="18" fill="#000" text-anchor="middle">12</text>
<text class="dj" x="644.6" y="377" font-size="18" fill="#000" text-anchor="middle">18</text>
<text class="dj" x="680.2" y="377" font-size="18" fill="#000" text-anchor="middle">sre</text>
<text class="dj" x="713.7" y="377" font-size="18" fill="#000" text-anchor="middle">06</text>
<text class="dj" x="748.2" y="377" font-size="18" fill="#000" text-anchor="middle">12</text>
<text class="dj" x="782.8" y="377" font-size="18" fill="#000" text-anchor="middle">18</text>
<text class="dj" x="818.3" y="377" font-size="18" fill="#000" text-anchor="middle">čet</text>
<text class="dj" x="851.9" y="377" font-size="18" fill="#000" text-anchor="middle">06</text>
<text class="dj" x="886.4" y="377" font-size="18" fill="#000" text-anchor="middle">12</text>
<text class="dj" x="920.9" y="377" font-size="18" fill="#000" text-anchor="middle">18</text>
<text class="dj" x="956.5" y="377" font-size="18" fill="#000" text-anchor="middle">pet</text>
<text class="dj" x="990.0" y="377" font-size="18" fill="#000" text-anchor="middle">06</text>
<text class="dj" x="1024.5" y="377" font-size="18" fill="#000" text-anchor="middle">12</text>
<text class="dj" x="1059.1" y="377" font-size="18" fill="#000" text-anchor="middle">18</text>
<text class="dj" x="123.6" y="365.4" font-size="17.8" fill="#000" text-anchor="end">0</text>
<text class="dj" x="123.6" y="328.03999999999996" font-size="17.8" fill="#000" text-anchor="end">3</text>
<text class="dj" x="123.6" y="290.67999999999995" font-size="17.8" fill="#000" text-anchor="end">6</text>
<text class="dj" x="123.6" y="253.32000000000002" font-size="17.8" fill="#000" text-anchor="end">9</text>
<text class="dj" x="123.6" y="215.96" font-size="17.8" fill="#000" text-anchor="end">2</text>
<text class="dj" x="123.6" y="178.6" font-size="17.8" fill="#000" text-anchor="end">5</text>
<rect x="80.4" y="50" width="30" height="380" fill="#fff"/>
<text class="ar" font-size="21.8" fill="#000" text-anchor="start" transform="translate(100.7,345.0) rotate(-90) scale(1,0.91)">Padavine (mm/h)</text>
<clipPath id="c2"><rect x="74" y="160" width="6.4" height="210"/></clipPath>
<g clip-path="url(#c2)"><text class="ar" font-size="24.2" fill="#000" text-anchor="start" transform="translate(94.8,358.7) rotate(-90)">Padavine (mm/h)</text></g>
<text class="dj" x="45.6" y="365.4" font-size="17.8" fill="#f01414" text-anchor="start">-2</text>
<text class="dj" x="45.6" y="328.03999999999996" font-size="17.8" fill="#f01414" text-anchor="start">4</text>
<text class="dj" x="45.6" y="290.67999999999995" font-size="17.8" fill="#f01414" text-anchor="start">9</text>
<text class="dj" x="45.6" y="253.32000000000002" font-size="17.8" fill="#f01414" text-anchor="start">15</text>
<text class="dj" x="45.6" y="215.96" font-size="17.8" fill="#f01414" text-anchor="start">20</text>
<text class="dj" x="45.6" y="178.6" font-size="17.8" fill="#f01414" text-anchor="start">26</text>
<text class="ar" font-size="21.6" fill="#f01414" text-anchor="start" transform="translate(35.3,349.4) rotate(-90) scale(1,0.91)">Temperatura (°C)</text>
<text class="dj" x="1098.6" y="365.4" font-size="17.8" fill="#000" text-anchor="start">0</text>
<text class="dj" x="1098.6" y="328.03999999999996" font-size="17.8" fill="#000" text-anchor="start">1.5</text>
<text class="dj" x="1098.6" y="290.67999999999995" font-size="17.8" fill="#000" text-anchor="start">3.5</text>
<text class="dj" x="1098.6" y="253.32000000000002" font-size="17.8" fill="#000" text-anchor="start">6.0</text>
<text class="dj" x="1098.6" y="215.96" font-size="17.8" fill="#000" text-anchor="start">9.0</text>
<text class="dj" x="1098.6" y="178.6" font-size="17.8" fill="#000" text-anchor="start">14</text>
<text class="ar" font-size="21.6" fill="#000" text-anchor="middle" transform="translate(1145.0,254.2) rotate(-90) scale(1,0.91)">Višina oblakov (km)</text>
<rect x="127.3" y="390" width="31.5" height="11.2" fill="#0050ff"/>
<rect x="164.8" y="386" width="105.2" height="19.4" fill="#fff"/>
<text class="ar" x="169.2" y="401.6" font-size="19.4" fill="#000" text-anchor="start">Dež</text>
<rect x="278" y="390" width="32" height="11.2" fill="#10d8c6"/>
<rect x="310" y="386" width="109.4" height="19.4" fill="#fff"/>
<text class="ar" x="319.4" y="401.6" font-size="19.4" fill="#000" text-anchor="start">Možnost ploh</text>
<text class="ar" x="500.2" y="401.6" font-size="15.8" fill="#0000f0" text-anchor="start">© vreme.us &amp; vreme.pro</text>
<rect x="759" y="386" width="180.6" height="18.8" fill="#fff"/>
<text class="ar" x="759.8" y="401.6" font-size="19.4" fill="#000" text-anchor="start">Gostota oblakov (%)</text>
<rect x="949.5" y="385.5" width="29.2" height="13" fill="#d1d1d1"/>
<rect x="978.6" y="385.5" width="29.2" height="13" fill="#b3b3b3"/>
<rect x="1007.7" y="385.5" width="29.2" height="13" fill="#949494"/>
<rect x="1036.8" y="385.5" width="29.2" height="13" fill="#757575"/>
<rect x="1065.9" y="385.5" width="29.2" height="13" fill="#595959"/>
<rect x="949.5" y="385.5" width="145.5" height="13" fill="none" stroke="#222" stroke-width="0.8"/>
<text class="dj" x="949.5" y="414.6" font-size="15.6" fill="#000" text-anchor="middle">10</text>
<text class="dj" x="978" y="414.6" font-size="15.6" fill="#000" text-anchor="middle">25</text>
<text class="dj" x="1007.2" y="414.6" font-size="15.6" fill="#000" text-anchor="middle">50</text>
<text class="dj" x="1036.2" y="414.6" font-size="15.6" fill="#000" text-anchor="middle">75</text>
<text class="dj" x="1064.8" y="414.6" font-size="15.6" fill="#000" text-anchor="middle">90</text>
<text class="dj" x="1094.6" y="414.6" font-size="15.6" fill="#000" text-anchor="middle">100</text>
<text class="ar" x="10.2" y="21.6" font-size="16.05" fill="#0000f0" text-anchor="start">(kraj lahko izberete v meniju)</text>
<text class="ar" x="399.2" y="36.6" font-size="23.5" fill="#0000f0" text-anchor="start">Lendava 7 dni</text>
<text class="ar" x="1143.2" y="21.8" font-size="16" fill="#0000f0" text-anchor="end">Zadnja posodobitev: 01.11.2025 - 14:09</text>
</svg></body></html>
